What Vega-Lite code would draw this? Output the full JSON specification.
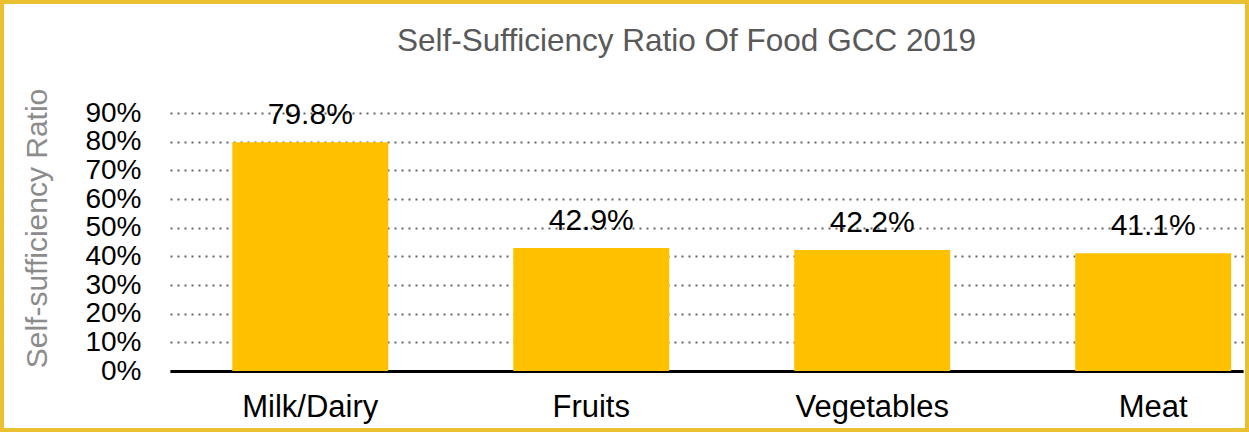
{
  "$schema": "https://vega.github.io/schema/vega-lite/v6.json",
  "width": 1249,
  "height": 432,
  "autosize": "none",
  "padding": 0,
  "background": "white",
  "config": {"font": "Liberation Sans", "view": {"stroke": "#EBC030", "strokeWidth": 8}},
  "title": {
    "text": "Self-Sufficiency Ratio Of Food GCC 2019",
    "fontSize": 31.5,
    "fontWeight": "normal",
    "color": "#595959",
    "anchor": "middle",
    "dx": 62,
    "baseline": "alphabetic",
    "offset": -82
  },
  "data": {
    "values": [
      {"category": "Milk/Dairy", "ratio": 0.798},
      {"category": "Fruits", "ratio": 0.429},
      {"category": "Vegetables", "ratio": 0.422},
      {"category": "Meat", "ratio": 0.411}
    ]
  },
  "encoding": {
    "x": {
      "field": "category",
      "type": "nominal",
      "sort": null,
      "scale": {"range": [170, 1243], "paddingInner": 0.445, "paddingOuter": 0.132, "align": 0.84},
      "axis": {
        "title": null,
        "offset": -61,
        "labelAngle": 0,
        "labelFontSize": 31,
        "labelColor": "black",
        "labelPadding": 21,
        "ticks": false,
        "domainColor": "black",
        "domainWidth": 3,
        "grid": false
      }
    },
    "y": {
      "field": "ratio",
      "type": "quantitative",
      "scale": {"domain": [0, 0.9], "nice": false, "range": [371, 113]},
      "axis": {
        "title": "Self-sufficiency Ratio",
        "offset": -170,
        "format": ".0%",
        "values": [0, 0.1, 0.2, 0.3, 0.4, 0.5, 0.6, 0.7, 0.8, 0.9],
        "domain": false,
        "ticks": false,
        "tickSize": 0,
        "labelOverlap": false,
        "labelFlush": false,
        "labelFontSize": 28,
        "labelColor": "black",
        "labelPadding": 29,
        "gridDash": [2, 5],
        "gridColor": "#666666",
        "gridWidth": 2,
        "titleFontSize": 30,
        "titleFontWeight": "normal",
        "titleColor": "#8c8c8c",
        "titlePadding": 32,
        "titleY": 228
      }
    }
  },
  "layer": [
    {"mark": {"type": "bar", "color": "#FFC000"}},
    {
      "mark": {"type": "text", "baseline": "alphabetic", "dy": -18, "fontSize": 30, "color": "black"},
      "encoding": {"text": {"field": "ratio", "type": "quantitative", "format": ".1%"}}
    }
  ]
}
